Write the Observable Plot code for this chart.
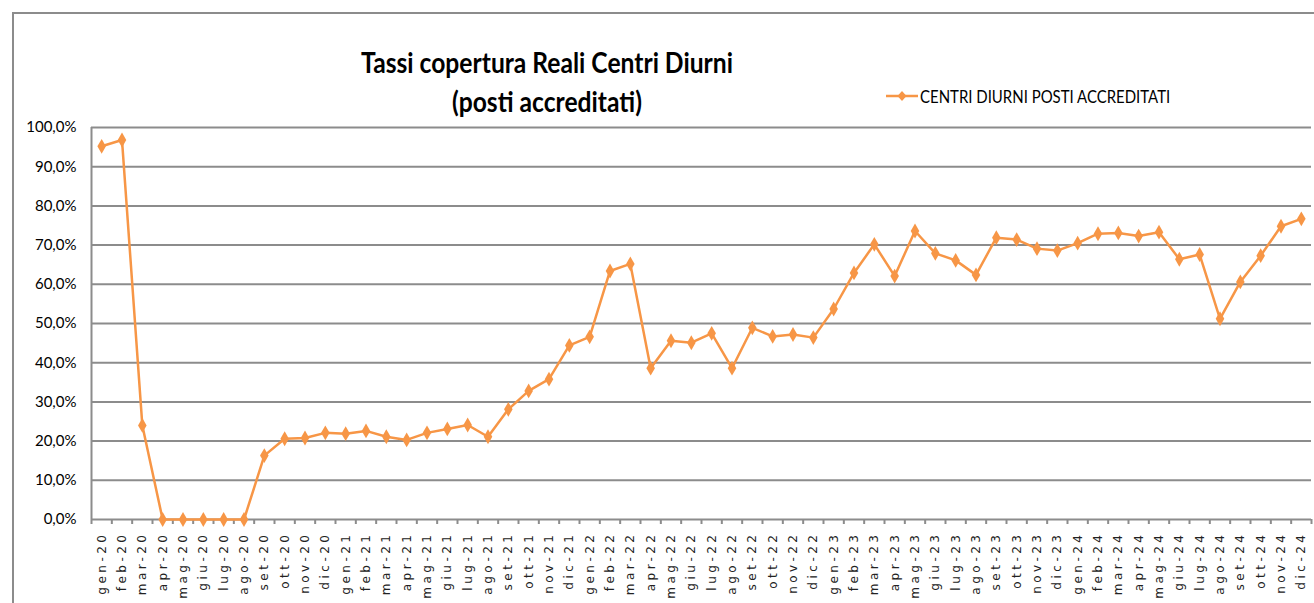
<!DOCTYPE html>
<html><head><meta charset="utf-8">
<script src="https://cdn.jsdelivr.net/npm/d3@7"></script>
<script src="https://cdn.jsdelivr.net/npm/@observablehq/plot@0.6"></script>
<style>
body{margin:0;background:#fff;}
#wrap{position:relative;width:1314px;height:603px;overflow:hidden;background:#fff;}
#border{position:absolute;left:12px;top:12px;width:1330px;height:640px;border:2px solid #8c8c8c;box-sizing:border-box;}
#chart{position:absolute;left:0;top:0;}
.title{position:absolute;font-family:Lato,"Open Sans",sans-serif;font-weight:bold;font-size:28px;color:#000;white-space:nowrap;line-height:1;transform:translate(-50%,-50%) scaleX(0.88);}
#legend{position:absolute;left:886px;top:86px;height:20px;display:flex;align-items:center;white-space:nowrap;}
#legend span{font-family:Lato,"Open Sans",sans-serif;font-size:17px;color:#000;display:inline-block;transform-origin:0 50%;transform:scaleX(0.88);margin-left:2px;}
</style></head>
<body>
<div id="wrap">
  <div id="border"></div>
  <div id="chart"></div>
  <div class="title" id="t1" style="left:547px;top:62px;">Tassi copertura Reali Centri Diurni</div>
  <div class="title" id="t2" style="left:547px;top:101px;">(posti accreditati)</div>
  <div id="legend"><svg width="32" height="14"><line x1="0" y1="7" x2="32" y2="7" stroke="#F79646" stroke-width="2.5"/><path d="M16,2 L20.5,7 L16,12 L11.5,7Z" fill="#F79646"/></svg><span>CENTRI DIURNI POSTI ACCREDITATI</span></div>
</div>
<script>
const months = ["gen-20","feb-20","mar-20","apr-20","mag-20","giu-20","lug-20","ago-20","set-20","ott-20","nov-20","dic-20",
"gen-21","feb-21","mar-21","apr-21","mag-21","giu-21","lug-21","ago-21","set-21","ott-21","nov-21","dic-21",
"gen-22","feb-22","mar-22","apr-22","mag-22","giu-22","lug-22","ago-22","set-22","ott-22","nov-22","dic-22",
"gen-23","feb-23","mar-23","apr-23","mag-23","giu-23","lug-23","ago-23","set-23","ott-23","nov-23","dic-23",
"gen-24","feb-24","mar-24","apr-24","mag-24","giu-24","lug-24","ago-24","set-24","ott-24","nov-24","dic-24"];
const values = [95.2,96.8,24.0,0,0,0,0,0,16.3,20.6,20.8,22.1,
21.9,22.6,21.1,20.3,22.1,23.1,24.1,21.1,28.1,32.8,35.8,44.4,
46.6,63.4,65.2,38.6,45.6,45.1,47.5,38.6,48.9,46.7,47.2,46.4,
53.7,62.9,70.2,62.1,73.6,67.9,66.1,62.4,71.9,71.4,69.1,68.6,
70.5,72.9,73.1,72.3,73.3,66.4,67.6,51.2,60.6,67.3,74.8,76.7];
const yTicks = [0,10,20,30,40,50,60,70,80,90,100];
const seriesName = "CENTRI DIURNI POSTI ACCREDITATI";

const data = months.map((m,i)=>({i, m, v: values[i]}));
const idx = data.map(d=>d.i);
const bounds = d3.range(months.length+1).map(k=>k-0.5);
const grey = "#8c8c8c";
const orange = "#F79646";

const chart = Plot.plot({
  width:1314, height:603,
  marginTop:127, marginBottom:84, marginLeft:91, marginRight:3,
  x:{type:"linear", domain:[-0.5, months.length-0.5]},
  y:{domain:[0,100]},
  style:{background:"transparent", overflow:"visible"},
  marks:[
    Plot.gridY(yTicks,{stroke:grey, strokeOpacity:1, strokeWidth:2}),
    Plot.ruleX([-0.5],{stroke:grey, strokeWidth:2}),
    Plot.axisY(yTicks,{tickSize:0, tickPadding:15, label:null, tickFormat:d=>d.toFixed(1).replace(".",",")+"%", fontSize:15, fontFamily:"Lato", fill:"#000"}),
    Plot.axisX(bounds,{tickSize:5, tickFormat:()=>"", label:null, stroke:grey, strokeWidth:2}),
    Plot.axisX(idx,{tickSize:0, tickPadding:12, tickRotate:-90, label:null, tickFormat:i=>months[i], fontSize:12, fontFamily:"DejaVu Sans", fill:"#222"}),
    Plot.line(data,{x:"i", y:"v", stroke:orange, strokeWidth:2.5}),
    Plot.dot(data,{x:"i", y:"v", symbol:"diamond", r:4.5, fill:orange, stroke:"none"})
  ]
});
document.getElementById("chart").appendChild(chart);
d3.select(chart).selectAll('g[aria-label="x-axis tick label"] text').style("letter-spacing","3.5px");
</script>
</body></html>
